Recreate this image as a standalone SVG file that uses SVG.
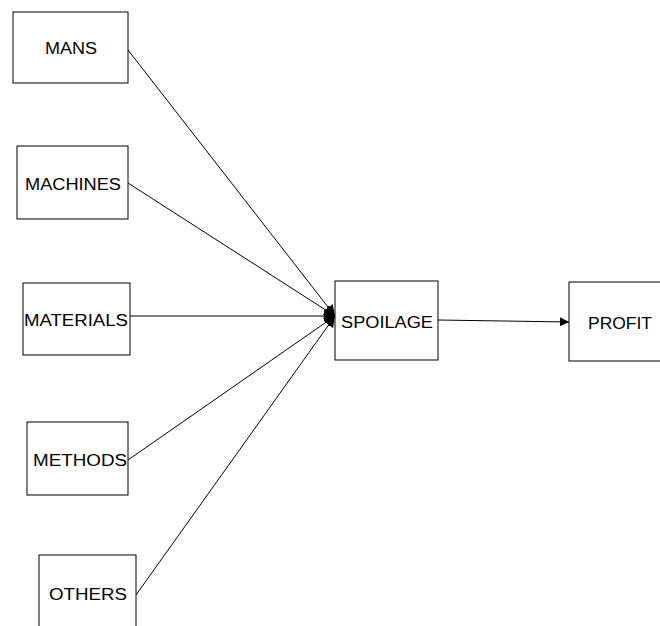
<svg xmlns="http://www.w3.org/2000/svg" width="660" height="626" viewBox="0 0 660 626">
<style>
.box{fill:#fff;stroke:#000;stroke-width:1}
.lbl{font-family:"Liberation Sans",Arial,sans-serif;font-size:16px;fill:#000}
.con{stroke:#000;stroke-width:1;fill:none;marker-end:url(#arr)}
.con2{stroke:#000;stroke-width:1;fill:none;marker-end:url(#arr2)}
</style>
<defs>
<marker id="arr" viewBox="0 0 10 10" refX="10" refY="5" markerWidth="11" markerHeight="11" markerUnits="userSpaceOnUse" orient="auto">
<path d="M0,0 L10,5 L0,10 Z" fill="#000"/>
</marker>
<marker id="arr2" viewBox="0 0 10 10" refX="10" refY="5" markerWidth="14" markerHeight="9" markerUnits="userSpaceOnUse" orient="auto">
<path d="M0,0 L10,5 L0,10 Z" fill="#000"/>
</marker>
</defs>
<rect width="660" height="626" fill="#fff"/>
<g id="connectors">
<line class="con" x1="128" y1="50" x2="335" y2="316"/>
<line class="con" x1="128" y1="183" x2="335" y2="316"/>
<line class="con" x1="130" y1="316" x2="335" y2="316"/>
<line class="con" x1="128" y1="460" x2="335" y2="316"/>
<line class="con" x1="136" y1="595" x2="335" y2="316"/>
<line class="con2" x1="438" y1="320" x2="569" y2="322"/>
</g>
<g id="mans"><rect class="box" x="13" y="12" width="115" height="71"/><text class="lbl" x="45" y="54" textLength="52" lengthAdjust="spacingAndGlyphs">MANS</text></g>
<g id="machines"><rect class="box" x="17" y="146" width="111" height="73"/><text class="lbl" x="25" y="190" textLength="96" lengthAdjust="spacingAndGlyphs">MACHINES</text></g>
<g id="materials"><rect class="box" x="23" y="283" width="107" height="72"/><text class="lbl" x="24" y="326" textLength="104" lengthAdjust="spacingAndGlyphs">MATERIALS</text></g>
<g id="methods"><rect class="box" x="27" y="422" width="101" height="73"/><text class="lbl" x="33" y="466" textLength="94" lengthAdjust="spacingAndGlyphs">METHODS</text></g>
<g id="others"><rect class="box" x="39" y="555" width="97" height="80"/><text class="lbl" x="49" y="600" textLength="78" lengthAdjust="spacingAndGlyphs">OTHERS</text></g>
<g id="spoilage"><rect class="box" x="335" y="281" width="103" height="79"/><text class="lbl" x="341" y="328" textLength="92" lengthAdjust="spacingAndGlyphs">SPOILAGE</text></g>
<g id="profit"><rect class="box" x="569" y="282" width="100" height="79"/><text class="lbl" x="588" y="329" textLength="64" lengthAdjust="spacingAndGlyphs">PROFIT</text></g>
</svg>
